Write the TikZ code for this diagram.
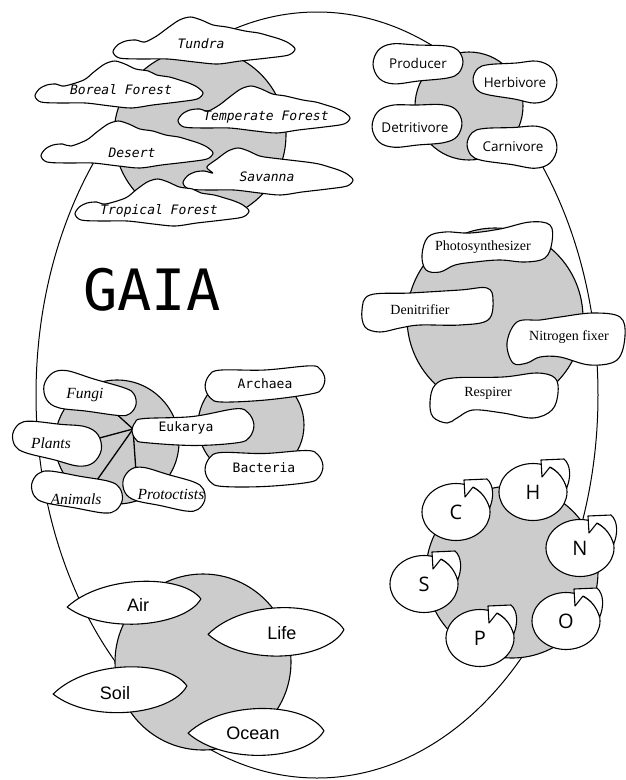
\documentclass[tikz,border=0pt]{standalone}
\usepackage{fontspec}
\newfontfamily\monof{DejaVu Sans Mono}
\newfontfamily\opensans{Open Sans}
\newfontfamily\helv{Liberation Sans}
\newfontfamily\timesf{Liberation Serif}
\tikzset{
  blobline/.style={draw=black, line width=1.1pt, fill=white, line join=round},
  shadedisc/.style={draw=black, line width=1.1pt, fill=black!20},
  bigline/.style={draw=black, line width=1pt},
  biolbl/.style={font=\monof\itshape\fontsize{13}{15}\selectfont, inner sep=0pt},
  prolbl/.style={font=\monof\fontsize{13}{15}\selectfont, inner sep=0pt},
  euklbl/.style={font=\timesf\itshape\fontsize{15.5}{17}\selectfont, inner sep=0pt},
  trolbl/.style={font=\opensans\fontsize{13.5}{15}\selectfont, inner sep=0pt},
  nitlbl/.style={font=\timesf\fontsize{14}{16}\selectfont, inner sep=0pt},
  elemlbl/.style={font=\opensans\fontsize{20}{22}\selectfont, inner sep=0pt},
  sphlbl/.style={font=\helv\fontsize{18}{20}\selectfont, inner sep=0pt},
  gaialbl/.style={font=\monof\fontsize{57}{60}\selectfont, inner sep=0pt},
  linkline/.style={draw=black, line width=1.3pt}
}
% cloud: centre x, centre y, half width, horizontal position of the peak (-1..1 shift)
\newcommand\cloudblob[4]{%
  \def\gcx{#1}\def\gcy{#2}\def\ghw{#3}\def\gps{#4}%
  \draw[blobline] plot[smooth cycle,tension=0.5] coordinates {
    ({\gcx-\ghw},{\gcy+8}) ({\gcx-0.95*\ghw},{\gcy+1}) ({\gcx-0.86*\ghw},{\gcy-3}) ({\gcx-0.75*\ghw},{\gcy-4})
    ({\gcx-0.65*\ghw},{\gcy-2}) ({\gcx+(-0.52+\gps)*\ghw},{\gcy-8}) ({\gcx+(-0.4+\gps)*\ghw},{\gcy-16})
    ({\gcx+(-0.27+\gps)*\ghw},{\gcy-24}) ({\gcx+(-0.15+\gps)*\ghw},{\gcy-27}) ({\gcx+(-0.03+\gps)*\ghw},{\gcy-24})
    ({\gcx+(0.1+\gps)*\ghw},{\gcy-19}) ({\gcx+(0.25+\gps)*\ghw},{\gcy-17}) ({\gcx+0.45*\ghw},{\gcy-13})
    ({\gcx+0.6*\ghw},{\gcy-11}) ({\gcx+0.72*\ghw},{\gcy-8}) ({\gcx+0.83*\ghw},{\gcy-5}) ({\gcx+0.93*\ghw},{\gcy-1})
    ({\gcx+\ghw},{\gcy+5}) ({\gcx+0.93*\ghw},{\gcy+11}) ({\gcx+0.7*\ghw},{\gcy+14}) ({\gcx+0.4*\ghw},{\gcy+17})
    ({\gcx+0.15*\ghw},{\gcy+20}) ({\gcx-0.1*\ghw},{\gcy+18}) ({\gcx-0.4*\ghw},{\gcy+15}) ({\gcx-0.7*\ghw},{\gcy+15})
    ({\gcx-0.93*\ghw},{\gcy+14})};}
\newcommand\capsule[7]{%
  \begin{scope}[shift={(#1,#2)},rotate=#3]
    \draw[blobline] plot[smooth cycle,tension=0.6] coordinates {({-#4},0) ({-#4+0.29*#5},{-0.71*#5}) ({-#4+#5},{-#5}) (0,{-(#5+#6)/2+#7}) ({#4-#6},{-#6}) ({#4-0.29*#6},{-0.71*#6}) ({#4},0) ({#4-0.29*#6},{0.71*#6}) ({#4-#6},{#6}) (0,{(#5+#6)/2+#7}) ({-#4+#5},{#5}) ({-#4+0.29*#5},{0.71*#5})};
  \end{scope}}
\newcommand\lens[5]{%
  \begin{scope}[shift={(#1,#2)},rotate=#3]
    \draw[blobline] ({-#4},0) .. controls ({-0.45*#4},{-1.05*#5}) and ({0.75*#4},{-0.9*#5}) .. ({#4},0) .. controls ({0.75*#4},{0.9*#5}) and ({-0.45*#4},{1.05*#5}) .. cycle;
  \end{scope}}
\newcommand\element[4]{%
  \draw[blobline] (#2,#3) ellipse [x radius=34pt, y radius=28.5pt];
  \begin{scope}[shift={(#2,#3)}]
    \draw[blobline] (8,-32) -- (9,-15) -- (17,-25) .. controls (25,-21) and (31,-13) .. (33.6,-4) .. controls (38,-14) and (38,-27) .. (31,-33) -- cycle;
  \end{scope}
  \node[elemlbl] (#1) at (#2,#3) {#4};}
\begin{document}
\begin{tikzpicture}[x=1pt,y=-1pt]
\useasboundingbox (0,0) rectangle (626,780);
\fill[white] (0,0) rectangle (626,780);

% big Gaia ellipse
\draw[bigline] (317,395) ellipse [x radius=281pt, y radius=383pt];

% ---------- biomes ----------
\draw[shadedisc] (200,135) circle [radius=86pt];
\cloudblob{204}{44}{91}{0}
\cloudblob{119}{88}{84}{0.1}
\cloudblob{264}{113}{86}{0}
\cloudblob{127}{148}{86}{0.05}
\cloudblob{268}{175}{85}{-0.2}
\cloudblob{162}{206}{87}{0.1}
\node[biolbl] (tundra) at (201,44) {Tundra};
\node[biolbl] (boreal) at (121,90) {Boreal Forest};
\node[biolbl] (temperate) at (266,117) {Temperate Forest};
\node[biolbl] (desert) at (132,153) {Desert};
\node[biolbl] (savanna) at (267,177) {Savanna};
\node[biolbl] (tropical) at (159,211) {Tropical Forest};

% ---------- trophic ----------
\draw[shadedisc] (469,106) circle [radius=54pt];
\capsule{418}{63}{2}{45}{20}{16}{0}
\capsule{515}{81}{-3}{42}{15}{21}{0}
\capsule{417}{125}{3}{45}{21}{19}{0}
\capsule{512}{146}{-3}{45}{16}{21}{0}
\node[trolbl] (producer) at (418,63) {Producer};
\node[trolbl] (herbivore) at (515,82) {Herbivore};
\node[trolbl] (detritivore) at (415,128) {Detritivore};
\node[trolbl] (carnivore) at (513,147) {Carnivore};

% ---------- GAIA ----------
\node[gaialbl] (gaia) at (152,290) {GAIA};

% ---------- nitrogen ----------
\draw[shadedisc] (495,318) ellipse [x radius=88pt, y radius=90pt];
\draw[blobline] plot[smooth cycle,tension=0.6] coordinates {(422,255) (428,237) (445,232) (470,233) (500,229) (530,222) (550,225) (552,242) (545,258) (525,262) (500,260) (475,262) (455,265) (440,272) (426,270)};
\draw[blobline] plot[smooth cycle,tension=0.6] coordinates {(362,310) (370,295) (410,293) (460,290) (487,288) (493,300) (488,320) (460,325) (420,325) (400,328) (380,332) (365,327)};
\draw[blobline] plot[smooth cycle,tension=0.6] coordinates {(507,343) (517,322) (540,320) (560,317) (593,313) (620,317) (625,336) (617,360) (590,365) (560,357) (540,357) (527,363) (513,363)};
\draw[blobline] plot[smooth cycle,tension=0.6] coordinates {(435,385) (453,378) (503,377) (537,373) (555,378) (558,393) (552,410) (533,418) (503,413) (473,410) (457,418) (447,423) (433,417) (430,402)};
\node[nitlbl] (photo) at (483,247) {Photosynthesizer};
\node[nitlbl] (denit) at (420,310) {Denitrifier};
\node[nitlbl] (nfix) at (569,337) {Nitrogen fixer};
\node[nitlbl] (resp) at (488,393) {Respirer};

% ---------- taxonomy ----------
\draw[shadedisc] (117,442) circle [radius=62pt];
\draw[shadedisc] (251,425) circle [radius=53pt];
\coordinate (J) at (133,429);
\coordinate (jf) at (112,410);
\coordinate (jp) at (92,440);
\coordinate (ja) at (90,490);
\coordinate (jr) at (137,486);
\draw[linkline] (J) -- (jf);
\draw[linkline] (J) -- (jp);
\draw[linkline] (J) -- (ja);
\draw[linkline] (J) -- (jr);
\capsule{90}{395}{-12}{47}{19}{14}{0}
\capsule{57}{442}{-10}{45}{16}{20}{0}
\capsule{77}{492}{-10}{46}{16}{16}{0}
\capsule{164}{490}{-14}{42}{17}{15}{0}
\capsule{193}{428}{3}{61}{12}{17}{3}
\capsule{265}{383}{4}{60}{16}{14}{2}
\capsule{264}{468}{2}{59}{17}{16}{2}
\node[euklbl] (fungi) at (85,395) {Fungi};
\node[euklbl] (plants) at (51,443) {Plants};
\node[euklbl] (animals) at (76,499) {Animals};
\node[euklbl] (protoctists) at (171,494) {Protoctists};
\node[prolbl] (eukarya) at (186,428) {Eukarya};
\node[prolbl] (archaea) at (265,384) {Archaea};
\node[prolbl] (bacteria) at (264,468) {Bacteria};

% ---------- elements ----------
\draw[shadedisc] (512,572) circle [radius=86pt];
\element{eC}{456}{512}{C}
\element{eH}{533}{492}{H}
\element{eN}{580}{548}{N}
\element{eS}{424}{584}{S}
\element{eP}{480}{638}{P}
\element{eO}{566}{621}{O}

% ---------- spheres ----------
\draw[shadedisc] (203,662) circle [radius=88pt];
\lens{134}{603}{3.5}{67}{29}
\lens{120}{690}{3.5}{67}{31}
\lens{276}{632}{2}{68}{33}
\lens{256}{732}{1}{68}{32}
\node[sphlbl] (air) at (138,605) {Air};
\node[sphlbl] (life) at (282,633) {Life};
\node[sphlbl] (soil) at (115,693) {Soil};
\node[sphlbl] (ocean) at (253,733) {Ocean};
\end{tikzpicture}
\end{document}
